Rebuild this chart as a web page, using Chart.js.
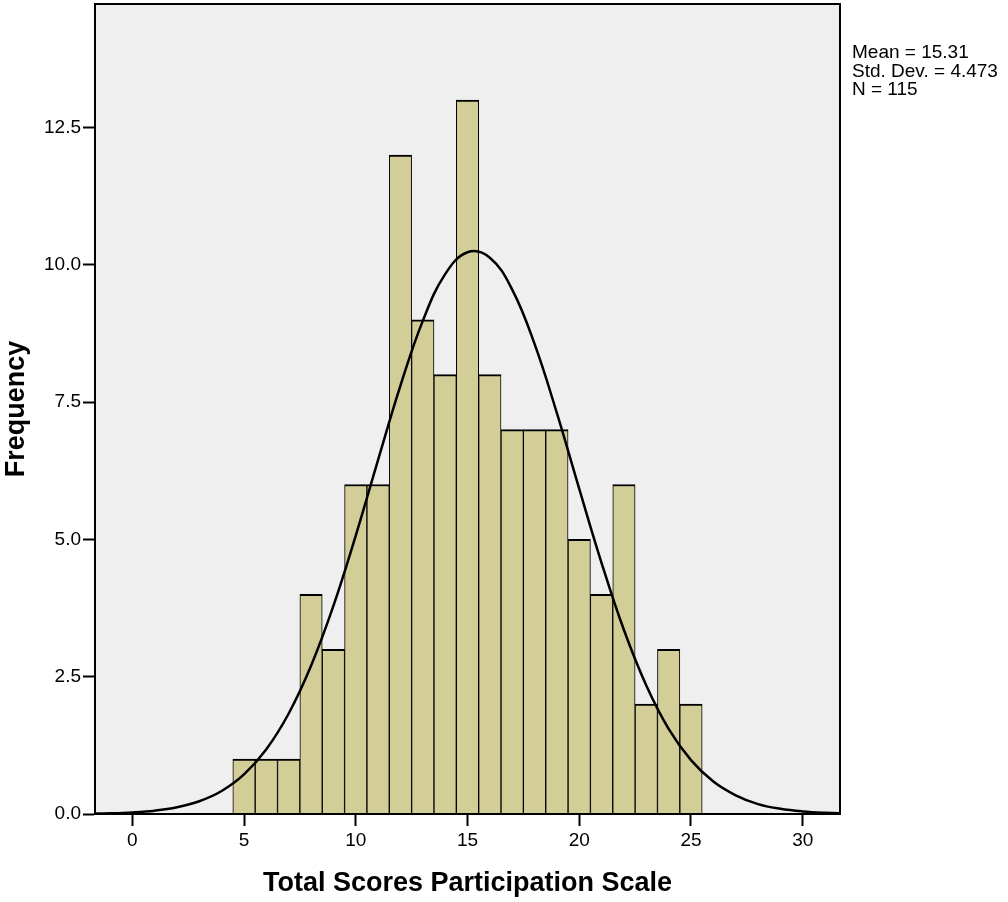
<!DOCTYPE html>
<html>
<head>
<meta charset="utf-8">
<title>Total Scores Participation Scale</title>
<script src="https://cdn.jsdelivr.net/npm/chart.js@4/dist/chart.umd.min.js"></script>
<style>
    html, body { margin: 0; padding: 0; background: #ffffff; }
    #wrap { width: 1008px; height: 902px; }
</style>
</head>
<body>
<div id="wrap"><canvas id="histChart" width="1008" height="902"></canvas></div>
<script>
// ==================== DATA ====================
const binCentres = [5, 6, 7, 8, 9, 10, 11, 12, 13, 14, 15, 16, 17, 18, 19, 20, 21, 22, 23, 24, 25];
const binCounts = [1, 1, 1, 4, 3, 6, 6, 12, 9, 8, 13, 8, 7, 7, 7, 5, 4, 6, 2, 3, 2];

// normal curve
const curveX = [-2, -1, 0, 1, 2, 3, 4, 5, 6, 7, 8, 9, 10, 11, 12, 13, 14, 15, 16, 17, 18, 19, 20, 21, 22, 23, 24, 25, 26, 27, 28, 29, 30, 31, 32];
const curveY = [0.006, 0.013, 0.029, 0.061, 0.123, 0.233, 0.419, 0.72, 1.18, 1.83, 2.70, 3.79, 5.07, 6.45, 7.80, 8.98, 9.83, 10.23, 10.13, 9.55, 8.56, 7.30, 5.92, 4.57, 3.35, 2.34, 1.55, 0.98, 0.59, 0.34, 0.18, 0.095, 0.047, 0.022, 0.010];

const xTicks = [0, 5, 10, 15, 20, 25, 30];
const yTicks = [0, 2.5, 5, 7.5, 10, 12.5];
const statsLines = ['Mean = 15.31', 'Std. Dev. = 4.473', 'N = 115'];

const FONT = '"Liberation Sans", Arial, sans-serif';

// ==================== PLUGINS ====================
const plotFrame = {
    id: 'plotFrame',
    beforeDraw(chart) {
        const { ctx, chartArea: a } = chart;
        ctx.save();
        ctx.fillStyle = '#efefef';
        ctx.fillRect(a.left, a.top, a.right - a.left, a.bottom - a.top);
        ctx.restore();
    },
    afterDraw(chart) {
        const { ctx, chartArea: a } = chart;
        ctx.save();
        ctx.strokeStyle = '#000';
        ctx.lineWidth = 2;
        ctx.strokeRect(a.left, a.top, a.right - a.left, a.bottom - a.top);

        // stats box on the right
        ctx.fillStyle = '#000';
        ctx.font = '19px ' + FONT;
        ctx.textBaseline = 'alphabetic';
        statsLines.forEach((t, i) => ctx.fillText(t, a.right + 12, 58 + i * 18.5));
        ctx.restore();
    }
};

// ==================== CHART ====================
const ctx = document.getElementById('histChart').getContext('2d');
new Chart(ctx, {
    data: {
        datasets: [{
            type: 'line',
            data: curveX.map((x, i) => ({ x: x, y: curveY[i] })),
            borderColor: '#000',
            borderWidth: 2.5,
            pointRadius: 0,
            tension: 0.4,
            fill: false,
            order: 0
        }, {
            type: 'bar',
            data: binCentres.map((x, i) => ({ x: x, y: binCounts[i] })),
            backgroundColor: '#d3ce98',
            borderColor: '#000',
            borderWidth: { top: 2, left: 1, right: 1, bottom: 0 },
            borderSkipped: false,
            barPercentage: 1,
            categoryPercentage: 1,
            order: 1
        }]
    },
    options: {
        responsive: false,
        animation: false,
        layout: { padding: { top: 4, right: 168, left: 0, bottom: 0 } },
        plugins: {
            legend: { display: false },
            tooltip: { enabled: false }
        },
        scales: {
            x: {
                type: 'linear',
                offset: false,
                min: -1.667,
                max: 31.667,
                afterBuildTicks: s => { s.ticks = xTicks.map(v => ({ value: v })); },
                afterFit: s => { s.height = 88; s.paddingLeft = 0; s.paddingRight = 0; },
                grid: { offset: false, drawOnChartArea: false, tickLength: 12, tickWidth: 2, tickColor: '#000' },
                border: { color: '#000', width: 2 },
                ticks: {
                    color: '#000',
                    font: { family: FONT, size: 19 },
                    padding: 3,
                    maxRotation: 0
                },
                title: {
                    display: true,
                    text: 'Total Scores Participation Scale',
                    color: '#000',
                    font: { family: FONT, size: 27, weight: 'bold' },
                    padding: { top: 0, bottom: 2 }
                }
            },
            y: {
                type: 'linear',
                min: 0,
                max: 14.75,
                afterBuildTicks: s => { s.ticks = yTicks.map(v => ({ value: v })); },
                afterFit: s => { s.width = 95; s.paddingTop = 0; s.paddingBottom = 0; },
                grid: { drawOnChartArea: false, tickLength: 12, tickWidth: 2, tickColor: '#000' },
                border: { color: '#000', width: 2 },
                ticks: {
                    color: '#000',
                    font: { family: FONT, size: 19 },
                    padding: 2,
                    callback: v => v.toFixed(1)
                },
                title: {
                    display: true,
                    text: 'Frequency',
                    color: '#000',
                    font: { family: FONT, size: 27, weight: 'bold' },
                    padding: { top: 0, bottom: 0 }
                }
            }
        }
    },
    plugins: [plotFrame]
});
</script>
</body>
</html>
